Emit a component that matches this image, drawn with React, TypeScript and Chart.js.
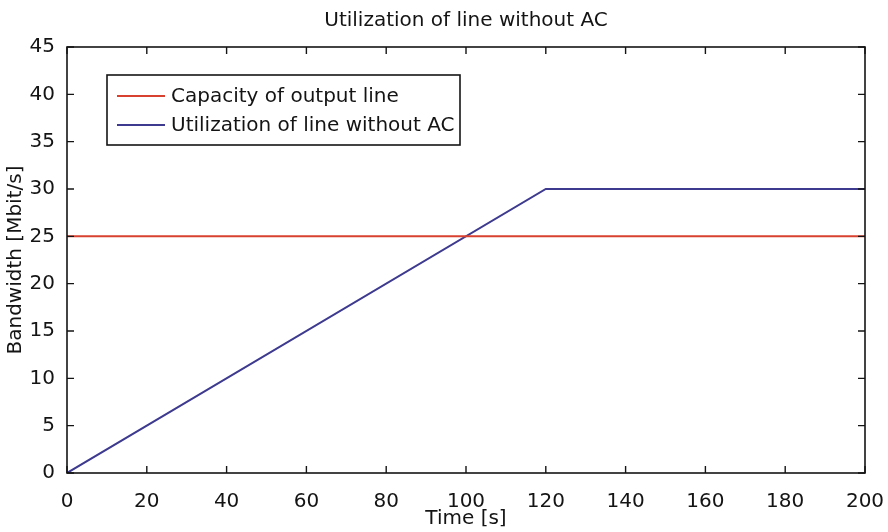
import React, { useEffect, useRef } from "react";
import { Chart, registerables } from "chart.js";

Chart.register(...registerables);

const TITLE = "Utilization of line without AC";
const X_LABEL = "Time [s]";
const Y_LABEL = "Bandwidth [Mbit/s]";

const capacityTime = [0, 200];
const capacityValues = [25, 25];
const utilTime = [0, 120, 200];
const utilValues = [0, 30, 30];

const seriesNames = ["Capacity of output line", "Utilization of line without AC"];
const seriesColors = ["#d8412f", "#3d3a8f"];

const X_MIN = 0, X_MAX = 200, X_STEP = 20;
const Y_MIN = 0, Y_MAX = 45, Y_STEP = 5;

const FONT = "'DejaVu Sans', 'Liberation Sans', Arial, sans-serif";
const TEXT_COLOR = "#141414";

const framePlugin = {
  id: "matlabFrame",
  afterDatasetsDraw(chart: any) {
    const { ctx, chartArea: a, scales } = chart;
    const xs = scales.x, ys = scales.y;
    ctx.save();
    ctx.strokeStyle = TEXT_COLOR;
    ctx.lineWidth = 1.6;
    ctx.strokeRect(a.left, a.top, a.right - a.left, a.bottom - a.top);
    const tl = 7;
    ctx.lineWidth = 1.4;
    ctx.beginPath();
    xs.ticks.forEach((t: any) => {
      const px = xs.getPixelForValue(t.value);
      ctx.moveTo(px, a.bottom);
      ctx.lineTo(px, a.bottom - tl);
      ctx.moveTo(px, a.top);
      ctx.lineTo(px, a.top + tl);
    });
    ys.ticks.forEach((t: any) => {
      const py = ys.getPixelForValue(t.value);
      ctx.moveTo(a.left, py);
      ctx.lineTo(a.left + tl, py);
      ctx.moveTo(a.right, py);
      ctx.lineTo(a.right - tl, py);
    });
    ctx.stroke();

    // Legend
    const lx = 107, ly = 75, lw = 353, lh = 70;
    ctx.fillStyle = "#ffffff";
    ctx.fillRect(lx, ly, lw, lh);
    ctx.lineWidth = 1.6;
    ctx.strokeStyle = TEXT_COLOR;
    ctx.strokeRect(lx, ly, lw, lh);
    ctx.font = `20px ${FONT}`;
    ctx.textBaseline = "middle";
    ctx.textAlign = "left";
    seriesNames.forEach((name, i) => {
      const yy = ly + 21 + i * 29;
      ctx.strokeStyle = seriesColors[i];
      ctx.lineWidth = 2;
      ctx.beginPath();
      ctx.moveTo(lx + 10, yy);
      ctx.lineTo(lx + 58, yy);
      ctx.stroke();
      ctx.fillStyle = TEXT_COLOR;
      ctx.fillText(name, lx + 64, yy + 1);
    });

    // Titles
    const cx = (a.left + a.right) / 2;
    ctx.fillStyle = TEXT_COLOR;
    ctx.textAlign = "center";
    ctx.font = `20px ${FONT}`;
    ctx.fillText(TITLE, cx, 21);
    ctx.fillText(X_LABEL, cx, 519);
    ctx.save();
    ctx.translate(16, (a.top + a.bottom) / 2);
    ctx.rotate(-Math.PI / 2);
    ctx.fillText(Y_LABEL, 0, 0);
    ctx.restore();
    ctx.restore();
  },
};

export default function App() {
  const ref = useRef<HTMLCanvasElement | null>(null);
  useEffect(() => {
    document.body.style.margin = "0";
    const canvas = ref.current!;
    const chart = new Chart(canvas, {
      type: "line",
      data: {
        datasets: [
          {
            label: seriesNames[0],
            data: capacityTime.map((t, i) => ({ x: t, y: capacityValues[i] })),
            borderColor: seriesColors[0],
            borderWidth: 2,
            pointRadius: 0,
            fill: false,
          },
          {
            label: seriesNames[1],
            data: utilTime.map((t, i) => ({ x: t, y: utilValues[i] })),
            borderColor: seriesColors[1],
            borderWidth: 2,
            pointRadius: 0,
            fill: false,
          },
        ],
      },
      options: {
        animation: false,
        responsive: false,
        maintainAspectRatio: false,
        layout: { padding: { top: 47, right: 23, left: 0, bottom: 0 } },
        plugins: { legend: { display: false }, tooltip: { enabled: false }, title: { display: false } },
        scales: {
          x: {
            type: "linear",
            min: X_MIN,
            max: X_MAX,
            grid: { display: false },
            border: { display: false },
            ticks: {
              stepSize: X_STEP,
              padding: 9,
              color: TEXT_COLOR,
              font: { family: FONT, size: 20 },
              maxRotation: 0,
              autoSkip: false,
            },
            afterFit: (s: any) => { s.height = 59; s.paddingLeft = 0; s.paddingRight = 0; },
          },
          y: {
            type: "linear",
            min: Y_MIN,
            max: Y_MAX,
            grid: { display: false },
            border: { display: false },
            ticks: {
              stepSize: Y_STEP,
              padding: 4,
              color: TEXT_COLOR,
              font: { family: FONT, size: 20 },
              autoSkip: false,
            },
            afterFit: (s: any) => { s.width = 67; s.paddingTop = 0; s.paddingBottom = 0; },
          },
        },
      },
      plugins: [framePlugin],
    } as any);
    return () => chart.destroy();
  }, []);
  return (
    <div style={{ position: "fixed", left: 0, top: 0, width: 888, height: 532, background: "#fff" }}>
      <canvas ref={ref} width={888} height={532} />
    </div>
  );
}
